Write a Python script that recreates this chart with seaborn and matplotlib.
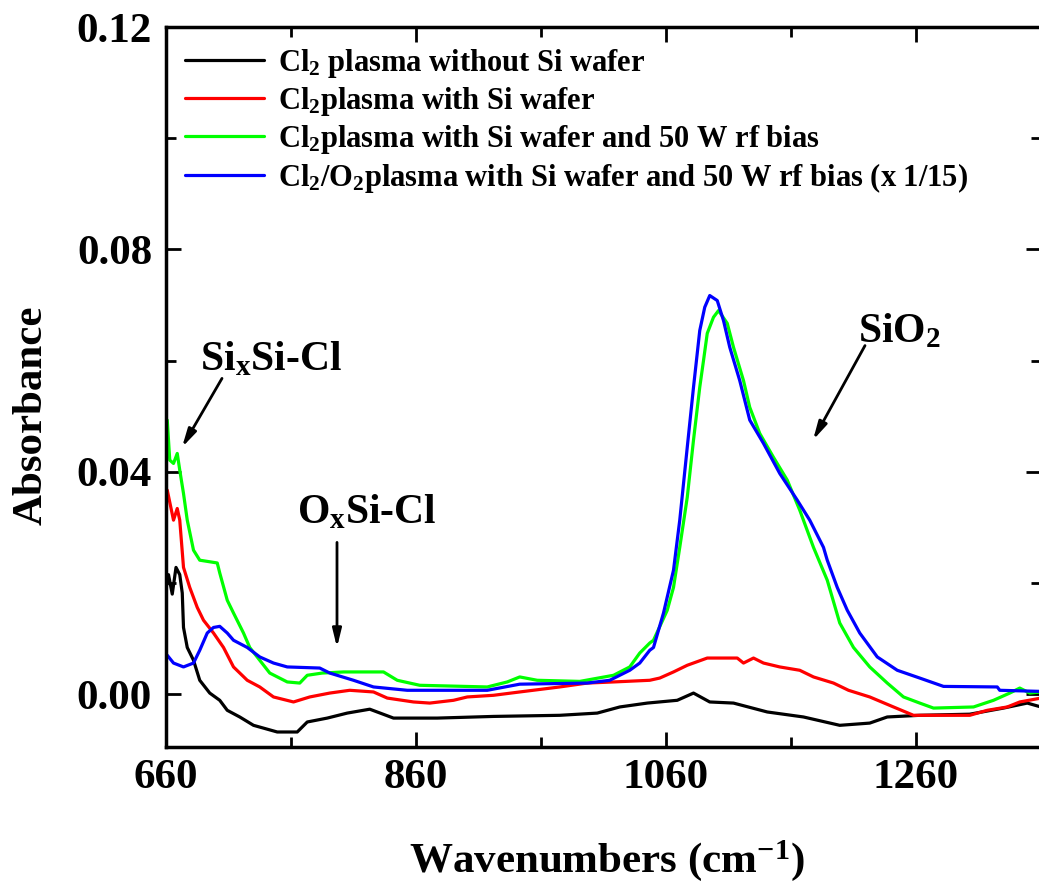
import numpy as np
import pandas as pd
import matplotlib
matplotlib.use("Agg")
import matplotlib.pyplot as plt
from matplotlib.lines import Line2D
from matplotlib.ticker import FormatStrFormatter
import seaborn as sns

# ---------------- data ----------------
LABELS = [
    "Cl$_2$ plasma without Si wafer",
    "Cl$_2$plasma with Si wafer",
    "Cl$_2$plasma with Si wafer and 50 W rf bias",
    "Cl$_2$/O$_2$plasma with Si wafer and 50 W rf bias (x 1/15)",
]
COLORS = ["#000000", "#ff0000", "#00ff00", "#0000ff"]

BLACK_X = [660, 662, 665, 668, 671, 673, 674, 677, 682, 687, 695, 703, 709, 719, 730,
           749, 765, 773, 789, 805, 823, 842, 877, 922, 975, 1005, 1023, 1045, 1069,
           1082, 1095, 1114, 1141, 1170, 1199, 1223, 1237, 1263, 1303, 1330, 1349, 1360]
BLACK_Y = [0.0190, 0.0215, 0.0180, 0.0228, 0.0215, 0.0182, 0.0120, 0.0084, 0.0061,
           0.0025, 0.0002, -0.0011, -0.0029, -0.0041, -0.0056, -0.0068, -0.0068,
           -0.0050, -0.0043, -0.0034, -0.0027, -0.0043, -0.0043, -0.0040, -0.0038,
           -0.0034, -0.0023, -0.0016, -0.0011, 0.0002, -0.0014, -0.0016, -0.0032,
           -0.0041, -0.0056, -0.0052, -0.0041, -0.0038, -0.0036, -0.0025, -0.0016,
           -0.0023]

RED_X = [661, 666, 669, 671, 674, 679, 685, 690, 698, 706, 714, 725, 735, 746, 762,
         775, 791, 807, 826, 837, 858, 871, 890, 901, 922, 943, 975, 997, 1018, 1047,
         1055, 1066, 1077, 1093, 1117, 1122, 1130, 1138, 1151, 1167, 1178, 1194, 1206,
         1223, 1242, 1258, 1303, 1317, 1333, 1343, 1360]
RED_Y = [0.0367, 0.0313, 0.0334, 0.0313, 0.0228, 0.0192, 0.0156, 0.0133, 0.0110,
         0.0084, 0.0049, 0.0025, 0.0013, -0.0005, -0.0014, -0.0005, 0.0002, 0.0007,
         0.0004, -0.0007, -0.0014, -0.0016, -0.0011, -0.0005, -0.0002, 0.0004, 0.0013,
         0.0020, 0.0022, 0.0025, 0.0029, 0.0040, 0.0052, 0.0065, 0.0065, 0.0056,
         0.0065, 0.0056, 0.0049, 0.0043, 0.0031, 0.0020, 0.0007, -0.0005, -0.0023,
         -0.0038, -0.0038, -0.0029, -0.0023, -0.0014, -0.0007]

GREEN_X = [661, 663, 666, 669, 671, 674, 677, 682, 687, 701, 703, 709, 714, 722, 727,
           735, 743, 757, 767, 773, 785, 802, 834, 845, 863, 917, 933, 943, 957, 991,
           1018, 1031, 1039, 1047, 1050, 1061, 1066, 1071, 1077, 1082, 1087, 1090, 1093,
           1098, 1102, 1109, 1114, 1122, 1127, 1135, 1146, 1157, 1167, 1178, 1189, 1199,
           1210, 1223, 1237, 1250, 1263, 1274, 1306, 1322, 1335, 1343, 1351, 1360]
GREEN_Y = [0.0493, 0.0421, 0.0415, 0.0433, 0.0403, 0.0361, 0.0313, 0.0259, 0.0241,
           0.0236, 0.0218, 0.0169, 0.0146, 0.0110, 0.0084, 0.0061, 0.0038, 0.0022,
           0.0020, 0.0034, 0.0038, 0.0040, 0.0040, 0.0025, 0.0016, 0.0013, 0.0022,
           0.0031, 0.0025, 0.0023, 0.0034, 0.0049, 0.0074, 0.0092, 0.0097, 0.0151,
           0.0192, 0.0264, 0.0354, 0.0457, 0.0552, 0.0600, 0.0649, 0.0678, 0.0690,
           0.0667, 0.0624, 0.0564, 0.0516, 0.0469, 0.0426, 0.0385, 0.0331, 0.0264,
           0.0205, 0.0128, 0.0084, 0.0049, 0.0020, -0.0005, -0.0016, -0.0025, -0.0023,
           -0.0011, 0.0002, 0.0011, 0.0002, 0.0004]

BLUE_X = [661, 666, 674, 682, 687, 693, 698, 703, 709, 714, 725, 735, 746, 757, 783,
          791, 810, 826, 853, 917, 943, 997, 1015, 1031, 1039, 1047, 1050, 1058, 1066,
          1071, 1077, 1082, 1087, 1091, 1095, 1101, 1106, 1111, 1119, 1127, 1138, 1151,
          1165, 1175, 1186, 1189, 1197, 1205, 1215, 1229, 1245, 1263, 1282, 1325, 1327,
          1360]
BLUE_Y = [0.0070, 0.0056, 0.0049, 0.0056, 0.0079, 0.0110, 0.0120, 0.0122, 0.0110,
          0.0097, 0.0084, 0.0067, 0.0056, 0.0049, 0.0047, 0.0038, 0.0025, 0.0013,
          0.0007, 0.0007, 0.0018, 0.0020, 0.0025, 0.0043, 0.0056, 0.0079, 0.0084,
          0.0146, 0.0223, 0.0313, 0.0444, 0.0552, 0.0654, 0.0696, 0.0717, 0.0708,
          0.0672, 0.0624, 0.0564, 0.0493, 0.0451, 0.0397, 0.0349, 0.0313, 0.0264,
          0.0241, 0.0192, 0.0151, 0.0110, 0.0067, 0.0043, 0.0029, 0.0014, 0.0013,
          0.0007, 0.0005]

X_MAJOR = [660, 860, 1060, 1260]
X_MINOR = [760, 960, 1160, 1360]
Y_MAJOR = [0.00, 0.04, 0.08, 0.12]
Y_MINOR = [0.02, 0.06, 0.10]

# ---------------- style ----------------
sns.set_theme(style="ticks")
plt.rcParams["font.family"] = ["Liberation Serif", "DejaVu Serif"]
plt.rcParams["font.weight"] = "bold"
plt.rcParams["axes.labelweight"] = "bold"
plt.rcParams["text.color"] = "black"
plt.rcParams["axes.labelcolor"] = "black"
plt.rcParams["xtick.color"] = "black"
plt.rcParams["ytick.color"] = "black"
plt.rcParams["axes.edgecolor"] = "black"
plt.rcParams["mathtext.fontset"] = "custom"
plt.rcParams["mathtext.rm"] = "Liberation Serif:bold"
plt.rcParams["mathtext.it"] = "Liberation Serif:bold"
plt.rcParams["mathtext.bf"] = "Liberation Serif:bold"
plt.rcParams["mathtext.default"] = "rm"

series = [(BLACK_X, BLACK_Y), (RED_X, RED_Y), (GREEN_X, GREEN_Y), (BLUE_X, BLUE_Y)]
frames = []
for lab, (xs, ys) in zip(LABELS, series):
    frames.append(pd.DataFrame({"wn": xs, "absorb": ys, "series": lab}))
df = pd.concat(frames, ignore_index=True)

W, H = 1039, 885
fig = plt.figure(figsize=(W / 100, H / 100), dpi=100)
ax = fig.add_axes([166 / W, 1 - 747 / H, 875 / W, 720 / H])

sns.lineplot(data=df, x="wn", y="absorb", hue="series", hue_order=LABELS,
             palette=dict(zip(LABELS, COLORS)), estimator=None, sort=True,
             linewidth=2.3, legend=False, ax=ax)

ax.set_xlim(660, 1360)
ax.set_ylim(-0.0095, 0.12)
ax.set_xticks(X_MAJOR)
ax.set_xticks(X_MINOR, minor=True)
ax.set_yticks(Y_MAJOR)
ax.set_yticks(Y_MINOR, minor=True)
ax.yaxis.set_major_formatter(FormatStrFormatter("%.2f"))
ax.tick_params(which="both", direction="in", top=True, right=True, width=2,
               colors="black", labelcolor="black", labelsize=31)
ax.tick_params(which="major", length=11)
ax.tick_params(which="minor", length=7)
ax.tick_params(axis="x", which="major", pad=9)
ax.tick_params(axis="y", which="major", pad=10)
for sp in ax.spines.values():
    sp.set_linewidth(2.5)
    sp.set_color("black")

ax.set_xlabel("Wavenumbers (cm$^{\\mathrm{-1}}$)", fontsize=31, fontweight="bold",
              color="black", va="center")
ax.set_ylabel("Absorbance", fontsize=31, fontweight="bold", color="black", va="center")
ax.xaxis.set_label_coords(0.504, -0.158)
ax.yaxis.set_label_coords(-0.154, 0.461)

handles = [Line2D([0], [0], color=c, lw=2.3) for c in COLORS]
ax.legend(handles, LABELS, loc="upper left", bbox_to_anchor=(0.0217, 0.972),
          frameon=False, fontsize=22, handlelength=2.6, handletextpad=0.45,
          labelspacing=0.16, borderaxespad=0, borderpad=0, labelcolor="black")

arrow = dict(arrowstyle="-|>,head_length=0.9,head_width=0.22", lw=2, color="black",
             shrinkA=0, shrinkB=0)
ax.text(687, 0.0582, "Si$_{\\mathrm{x}}$Si-Cl", fontsize=30, fontweight="bold",
        ha="left", va="baseline", color="black")
ax.annotate("", xy=(672.8, 0.0444), xytext=(704.8, 0.0568), arrowprops=arrow)
ax.text(765, 0.0307, "O$_{\\mathrm{x}}$Si-Cl", fontsize=30, fontweight="bold",
        ha="left", va="baseline", color="black")
ax.annotate("", xy=(796.8, 0.0084), xytext=(796.8, 0.0273), arrowprops=arrow)
ax.text(1213.6, 0.0633, "SiO$_{\\mathrm{2}}$", fontsize=30, fontweight="bold",
        ha="left", va="baseline", color="black")
ax.annotate("", xy=(1177.6, 0.0457), xytext=(1219.2, 0.0627), arrowprops=arrow)

fig.savefig("out.png", dpi=100)
